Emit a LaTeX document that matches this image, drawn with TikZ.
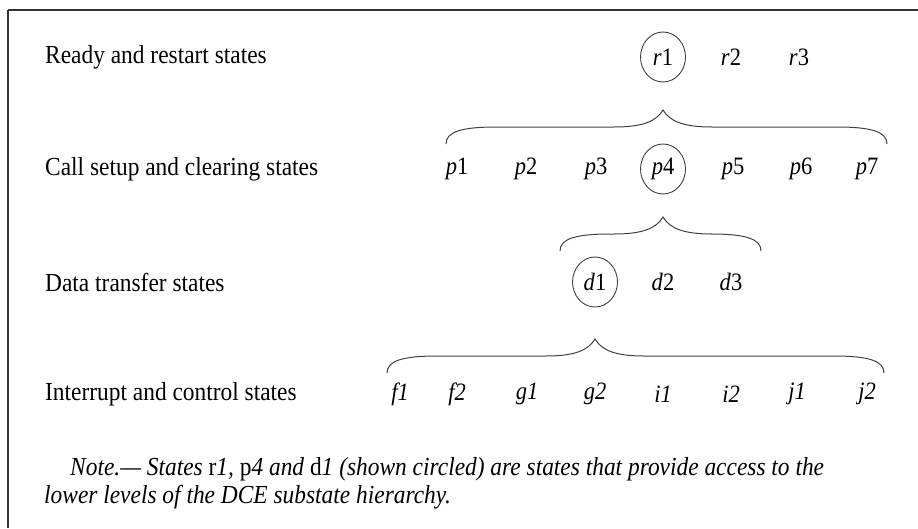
\documentclass[tikz,border=0pt]{standalone}
\usepackage{fontspec}
\setmainfont{Liberation Serif}
\newfontfamily\narrowserif[FakeStretch=0.9]{Liberation Serif}
\usetikzlibrary{shapes.geometric}

\tikzset{
  rowlabel/.style={anchor=west,inner sep=0pt,font=\narrowserif\fontsize{26}{30}\selectfont},
  statename/.style={inner sep=0pt,font=\narrowserif\fontsize{25}{30}\selectfont},
  circled/.style={statename,draw=black!75,line width=0.9pt,ellipse,minimum width=45pt,minimum height=50pt},
  bracestyle/.style={draw=black!75,line width=1pt},
  notetext/.style={anchor=west,inner sep=0pt,font=\narrowserif\fontsize{26}{30}\selectfont\itshape}
}

% brace: left x, tip x, right x, tip y
\newcommand{\levelbrace}[4]{%
  \draw[bracestyle] (#1,#4+34) .. controls (#1,#4+22) and (#1+15,#4+17) .. (#1+50,#4+17)
    -- (#2-49,#4+17) .. controls (#2-22,#4+17) and (#2-7,#4+12) .. (#2,#4)
    .. controls (#2+7,#4+12) and (#2+22,#4+17) .. (#2+49,#4+17)
    -- (#3-50,#4+17) .. controls (#3-15,#4+17) and (#3,#4+22) .. (#3,#4+34);}

\begin{document}
\begin{tikzpicture}[x=1pt,y=-1pt]
\useasboundingbox (0,0) rectangle (918,528);

% Frame
\draw[black!80,line width=2pt] (8,10) -- (918,10);
\draw[black!80,line width=1.4pt] (8,10) -- (8,528);

% Ready and restart states
\node[rowlabel] (readylab) at (45,57) {Ready and restart states};
\node[circled] (r1) at (663,57) {\textit{r}1};
\foreach \n/\x in {2/731,3/799} {
    \node[statename] (r\n) at (\x,57) {\textit{r}\n};
}

% Call setup and clearing states
\node[rowlabel] (calllab) at (45,169) {Call setup and clearing states};
\foreach \n/\x in {1/457,2/526,3/596,5/733,6/801,7/867} {
    \node[statename] (p\n) at (\x,169) {\textit{p}\n};
}
\node[circled] (p4) at (663,169) {\textit{p}4};

% Data transfer states
\node[rowlabel] (datalab) at (45,282) {Data transfer states};
\node[circled] (d1) at (595,282) {\textit{d}1};
\foreach \n/\x in {2/663,3/731} {
    \node[statename] (d\n) at (\x,282) {\textit{d}\n};
}

% Interrupt and control states
\node[rowlabel] (intlab) at (45,394) {Interrupt and control states};
\foreach \s/\x in {f1/400,f2/457,g1/527,g2/595,i1/663,i2/731,j1/797,j2/867} {
    \node[statename] (\s) at (\x,394) {\textit{\s}};
}

% Braces
\levelbrace{446}{663}{887}{110}
\levelbrace{560}{663}{761}{217}
\levelbrace{387}{595}{884}{339}

% Note
\node[notetext] (note1) at (70,469)
  {Note.\textemdash\ States {\upshape r}1, {\upshape p}4 and {\upshape d}1 (shown circled) are states that provide access to the};
\node[notetext] (note2) at (44,497)
  {lower levels of the DCE substate hierarchy.};
\end{tikzpicture}
\end{document}
